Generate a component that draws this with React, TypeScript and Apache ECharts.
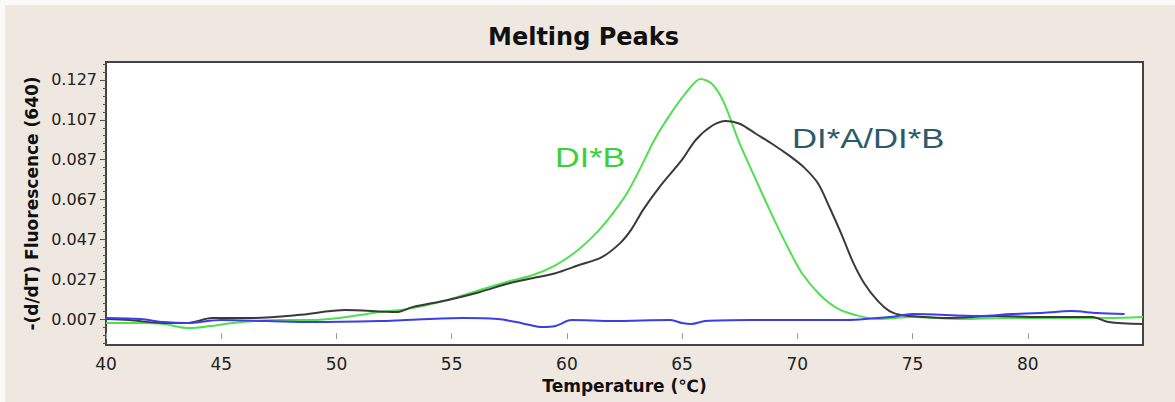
import React, { useEffect, useRef } from "react";
import * as echarts from "echarts";

// ---- data ----
const xTickValues = [40, 45, 50, 55, 60, 65, 70, 75, 80];
const yTickValues = [0.007, 0.027, 0.047, 0.067, 0.087, 0.107, 0.127];
const yMinorTickValues = [
  -0.005, -0.001, 0.003, 0.011, 0.015, 0.019, 0.023, 0.031, 0.035, 0.039, 0.043,
  0.051, 0.055, 0.059, 0.063, 0.071, 0.075, 0.079, 0.083, 0.091, 0.095, 0.099,
  0.103, 0.111, 0.115, 0.119, 0.123, 0.131, 0.135,
];

const greenTemps = [
  40, 41.5, 42.5, 43.6, 44.5, 45.5, 46.5, 47.5, 49, 50.1, 51, 51.9, 53.3, 54.8,
  56.2, 57.5, 58.5, 59.5, 60.3, 61, 61.5, 62.1, 62.6, 63.2, 63.8, 64.5, 65.2,
  65.8, 66.3, 66.8, 67.5, 68.2, 68.8, 69.5, 70.2, 71, 71.8, 72.7, 73.5, 75,
  77.1, 79, 81.65, 83.5, 85,
];
const greenValues = [
  0.005, 0.005, 0.0045, 0.0025, 0.0035, 0.005, 0.006, 0.0065, 0.0065, 0.0075,
  0.009, 0.0105, 0.0125, 0.0165, 0.0215, 0.026, 0.029, 0.034, 0.04, 0.047,
  0.053, 0.0617, 0.07, 0.083, 0.097, 0.11, 0.121, 0.1275, 0.125, 0.116, 0.095,
  0.077, 0.0617, 0.045, 0.03, 0.019, 0.012, 0.0085, 0.007, 0.008, 0.007,
  0.0075, 0.0075, 0.0075, 0.008,
];

const blackTemps = [
  40, 41, 42.5, 43.5, 44.6, 46.1, 48.3, 50.4, 52.6, 53.3, 54.8, 56.2, 57.5,
  58.5, 59.5, 60.5, 61.5, 62.3, 62.8, 63.3, 64, 65, 65.6, 66.3, 66.9, 67.5,
  68.2, 68.9, 69.65, 70.3, 70.9, 71.4, 71.9, 72.4, 72.9, 73.5, 74, 74.5, 75.5,
  76.5, 78.6, 80.5, 82.8, 83.5, 85,
];
const blackValues = [
  0.007, 0.0065, 0.005, 0.005, 0.0075, 0.0075, 0.009, 0.0115, 0.0105, 0.013,
  0.0165, 0.0205, 0.025, 0.0275, 0.03, 0.034, 0.038, 0.045, 0.052, 0.0617,
  0.073, 0.087, 0.097, 0.104, 0.1064, 0.105, 0.1, 0.095, 0.089, 0.083, 0.075,
  0.063, 0.05, 0.036, 0.025, 0.016, 0.011, 0.009, 0.008, 0.0075, 0.0085, 0.008,
  0.008, 0.0055, 0.0045,
];

const blueTemps = [
  40, 41.5, 42.5, 43.5, 45, 47, 49, 51.9, 53, 55.5, 57, 57.8, 58.4, 58.9, 59.5,
  60.2, 62, 64.5, 65, 65.4, 66, 68, 72, 74, 75, 77.9, 79.3, 80.5, 81.9, 83,
  84.2,
];
const blueValues = [
  0.0075, 0.007, 0.0055, 0.005, 0.0065, 0.006, 0.0055, 0.006, 0.0065, 0.0075,
  0.007, 0.0055, 0.004, 0.003, 0.0035, 0.0065, 0.006, 0.0065, 0.005, 0.0045,
  0.006, 0.0065, 0.0065, 0.008, 0.0095, 0.0085, 0.0095, 0.01, 0.011, 0.01,
  0.0095,
];

const zip = (xs: number[], ys: number[]) => xs.map((x, i) => [x, ys[i]]);

export default function App() {
  const ref = useRef<HTMLDivElement>(null);

  useEffect(() => {
    if (!ref.current) return;
    const chart = echarts.init(ref.current, null, { renderer: "svg" });
    const labelFont = "DejaVu Sans";
    chart.setOption({
      animation: false,
      title: {
        text: "Melting Peaks",
        left: 483,
        top: 20,
        textStyle: {
          fontFamily: labelFont,
          fontWeight: "bold",
          fontSize: 24,
          color: "#111",
        },
      },
      grid: {
        left: 106,
        right: 32,
        top: 62,
        bottom: 57,
        show: true,
        backgroundColor: "#ffffff",
        borderColor: "#444",
        borderWidth: 2,
      },
      xAxis: {
        type: "value",
        min: 40,
        max: 85,
        interval: 5,
        name: "Temperature (℃)",
        nameLocation: "middle",
        nameGap: 32,
        nameTextStyle: {
          fontFamily: labelFont,
          fontWeight: "bold",
          fontSize: 17,
          color: "#111",
        },
        axisLine: { show: false },
        axisTick: {
          show: true,
          length: 6,
          customValues: xTickValues,
          lineStyle: { color: "#999", width: 1 },
        },
        axisLabel: {
          customValues: xTickValues,
          margin: 10,
          fontFamily: labelFont,
          fontSize: 17,
          color: "#222",
        },
        splitLine: { show: false },
      },
      yAxis: [
        {
          type: "value",
          min: -0.006,
          max: 0.136,
          position: "left",
          name: "-(d/dT) Fluorescence (640)",
          nameLocation: "middle",
          nameRotate: 90,
          nameGap: 64,
          nameTextStyle: {
            fontFamily: labelFont,
            fontWeight: "bold",
            fontSize: 17,
            color: "#111",
          },
          axisLine: { show: false },
          axisTick: {
            show: true,
            length: 6,
            customValues: yTickValues,
            lineStyle: { color: "#555", width: 1 },
          },
          axisLabel: {
            customValues: yTickValues,
            formatter: (v: number) => v.toFixed(3),
            margin: 9,
            fontFamily: labelFont,
            fontSize: 16,
            color: "#222",
          },
          splitLine: { show: false },
        },
        {
          type: "value",
          min: -0.006,
          max: 0.136,
          position: "left",
          offset: 0,
          axisLine: { show: false },
          axisTick: {
            show: true,
            length: 3,
            customValues: yMinorTickValues,
            lineStyle: { color: "#555", width: 1 },
          },
          axisLabel: { show: false },
          splitLine: { show: false },
        },
      ],
      series: [
        {
          name: "DI*B",
          type: "line",
          data: zip(greenTemps, greenValues),
          showSymbol: false,
          symbol: "none",
          smooth: 0.3,
          lineStyle: { color: "#4fe04f", width: 2 },
        },
        {
          name: "DI*A/DI*B",
          type: "line",
          data: zip(blackTemps, blackValues),
          showSymbol: false,
          symbol: "none",
          smooth: 0.3,
          lineStyle: { color: "#3a3a3a", width: 2 },
        },
        {
          name: "Negative",
          type: "line",
          data: zip(blueTemps, blueValues),
          showSymbol: false,
          symbol: "none",
          smooth: 0.3,
          lineStyle: { color: "#3d3de6", width: 2 },
        },
      ],
      graphic: [
        {
          type: "text",
          x: 555,
          y: 158,
          scaleX: 1.22,
          style: {
            text: "DI*B",
            fontFamily: "Liberation Sans",
            fontSize: 28,
            fill: "#3ccf3c",
            align: "left",
            verticalAlign: "middle",
          },
        },
        {
          type: "text",
          x: 792,
          y: 138,
          scaleX: 1.24,
          style: {
            text: "DI*A/DI*B",
            fontFamily: "Liberation Sans",
            fontSize: 28,
            fill: "#2b5a6b",
            align: "left",
            verticalAlign: "middle",
          },
        },
      ],
    });
    return () => chart.dispose();
  }, []);

  return (
    <div
      style={{
        position: "fixed",
        left: 0,
        top: 0,
        width: 1175,
        height: 402,
        background: "#fbfaf8",
        overflow: "hidden",
      }}
    >
      <div
        style={{
          position: "absolute",
          left: 5,
          top: 5,
          right: 0,
          bottom: 0,
          background: "#eee8e0",
        }}
      />
      <div
        ref={ref}
        style={{ position: "absolute", left: 0, top: 0, width: 1175, height: 402 }}
      />
    </div>
  );
}
